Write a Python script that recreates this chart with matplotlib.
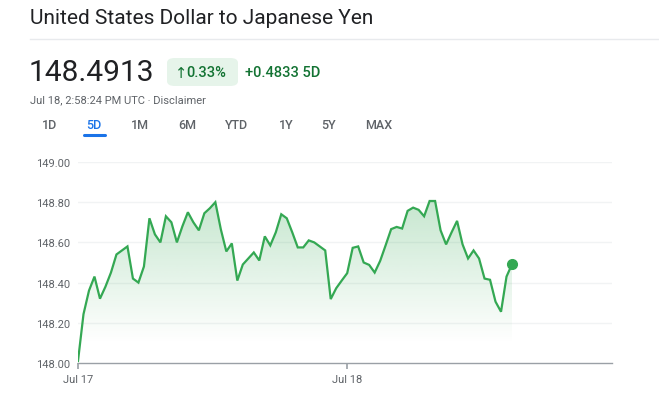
import matplotlib
matplotlib.use("Agg")
import matplotlib.pyplot as plt
import numpy as np
from matplotlib.patches import FancyBboxPatch
from matplotlib.lines import Line2D

W, H = 659, 406

prices = [148.01, 148.243, 148.36, 148.43, 148.32, 148.38, 148.45, 148.54, 148.56, 148.58,
          148.42, 148.40, 148.48, 148.72, 148.64, 148.60, 148.73, 148.70, 148.60, 148.68,
          148.75, 148.70, 148.66, 148.745, 148.77, 148.80, 148.665, 148.555, 148.595, 148.41,
          148.49, 148.52, 148.55, 148.51, 148.63, 148.585, 148.65, 148.74, 148.72, 148.65,
          148.575, 148.575, 148.61, 148.60, 148.58, 148.56, 148.318, 148.372, 148.41, 148.447,
          148.573, 148.58, 148.50, 148.488, 148.45, 148.508, 148.586, 148.666, 148.677, 148.669,
          148.757, 148.773, 148.762, 148.73, 148.806, 148.806, 148.66, 148.59, 148.65, 148.707,
          148.59, 148.52, 148.56, 148.52, 148.42, 148.414, 148.305, 148.255, 148.43, 148.4913]
x_tick_pos = [0, 49]
x_tick_labels = ["Jul 17", "Jul 18"]
y_ticks = [148.00, 148.20, 148.40, 148.60, 148.80, 149.00]
tabs = ["1D", "5D", "1M", "6M", "YTD", "1Y", "5Y", "MAX"]
tab_x = [50, 94, 140, 187, 237, 286, 328, 379]

GREEN = "#34a853"
DKGREEN = "#137333"
GRAY = "#5f6368"
FONT = "Roboto"

fig = plt.figure(figsize=(W / 100, H / 100), dpi=100)
fig.patch.set_facecolor("white")

def fx(x):
    return x / W

def fy(y):
    return 1 - y / H

# Header
fig.text(fx(30), fy(18), "United States Dollar to Japanese Yen", fontsize=15, color="#202124",
         family=FONT, va="center", ha="left")
fig.add_artist(Line2D([fx(30), fx(659)], [fy(39.5), fy(39.5)], color="#e8eaed", lw=1,
                      transform=fig.transFigure))
fig.text(fx(28.5), fy(73), "148.4913", fontsize=21.5, color="#202124", family=FONT,
         va="center", ha="left")
badge = FancyBboxPatch((fx(167), fy(87)), fx(71), 28 / H,
                       boxstyle="round,pad=0,rounding_size=0.012",
                       transform=fig.transFigure, facecolor="#e6f4ea", edgecolor="none")
fig.add_artist(badge)
fig.text(fx(175), fy(73), "↑", fontsize=10.5, color=DKGREEN, family="DejaVu Sans",
         va="center", ha="left")
fig.text(fx(186), fy(73), "0.33%", fontsize=10.5, color=DKGREEN, family=FONT,
         va="center", ha="left", weight="medium")
fig.text(fx(245), fy(73), "+0.4833 5D", fontsize=10.5, color=DKGREEN, family=FONT,
         va="center", ha="left", weight="medium")
fig.text(fx(30), fy(100), "Jul 18, 2:58:24 PM UTC · Disclaimer", fontsize=8, color=GRAY,
         family=FONT, va="center", ha="left")
for t, x in zip(tabs, tab_x):
    c = "#1a73e8" if t == "5D" else GRAY
    fig.text(fx(x), fy(126), t, fontsize=9, color=c, family=FONT, va="center",
             ha="center", weight="medium")
fig.add_artist(Line2D([fx(83.5), fx(105.5)], [fy(135.5), fy(135.5)], color="#1a73e8", lw=2.2,
                      transform=fig.transFigure, solid_capstyle="round"))

# Chart
ax = fig.add_axes([fx(78), fy(364), (612 - 78) / W, (364 - 163) / H])
x = np.arange(len(prices))
y = np.array(prices)
ax.set_xlim(0, 97.2)
ax.set_ylim(148.0, 149.0)

for v in y_ticks[1:]:
    ax.axhline(v, color="#f1f3f4", lw=1, zorder=0)

# gradient fill
ybot, ytop = 148.1, 148.81
grad = np.linspace(0, 1, 256).reshape(-1, 1)
rgba = np.zeros((256, 1, 4))
rgba[..., 0] = 52 / 255
rgba[..., 1] = 168 / 255
rgba[..., 2] = 83 / 255
rgba[..., 3] = 0.28 * grad[:, :]
im = ax.imshow(rgba, extent=[x[0], x[-1], ybot, ytop], origin="lower", aspect="auto", zorder=1,
               interpolation="bilinear")
poly = ax.fill_between(x, y, 148.0, color="none", lw=0)
path = poly.get_paths()[0]
from matplotlib.patches import PathPatch
clip = PathPatch(path, transform=ax.transData, facecolor="none", edgecolor="none")
ax.add_patch(clip)
im.set_clip_path(clip)

ax.plot(x, y, color=GREEN, lw=1.6, zorder=3, solid_joinstyle="miter")
ax.plot([x[-1]], [y[-1]], "o", color=GREEN, ms=7, zorder=4)

for s in ["top", "right", "left"]:
    ax.spines[s].set_visible(False)
ax.spines["bottom"].set_color("#9aa0a6")
ax.spines["bottom"].set_linewidth(1)
ax.set_yticks(y_ticks)
ax.set_yticklabels([f"{v:.2f}" for v in y_ticks], family=FONT, fontsize=8, color=GRAY)
ax.tick_params(axis="y", length=0, pad=6)
ax.set_xticks(x_tick_pos)
ax.set_xticklabels(x_tick_labels, family=FONT, fontsize=8, color=GRAY)
ax.tick_params(axis="x", length=4, width=1.2, color="#9aa0a6", pad=4)
ax.set_xlim(0, 97.2)
ax.set_ylim(148.0, 149.0)
ax.set_facecolor("none")

fig.savefig("out.png", dpi=100, facecolor="white")
